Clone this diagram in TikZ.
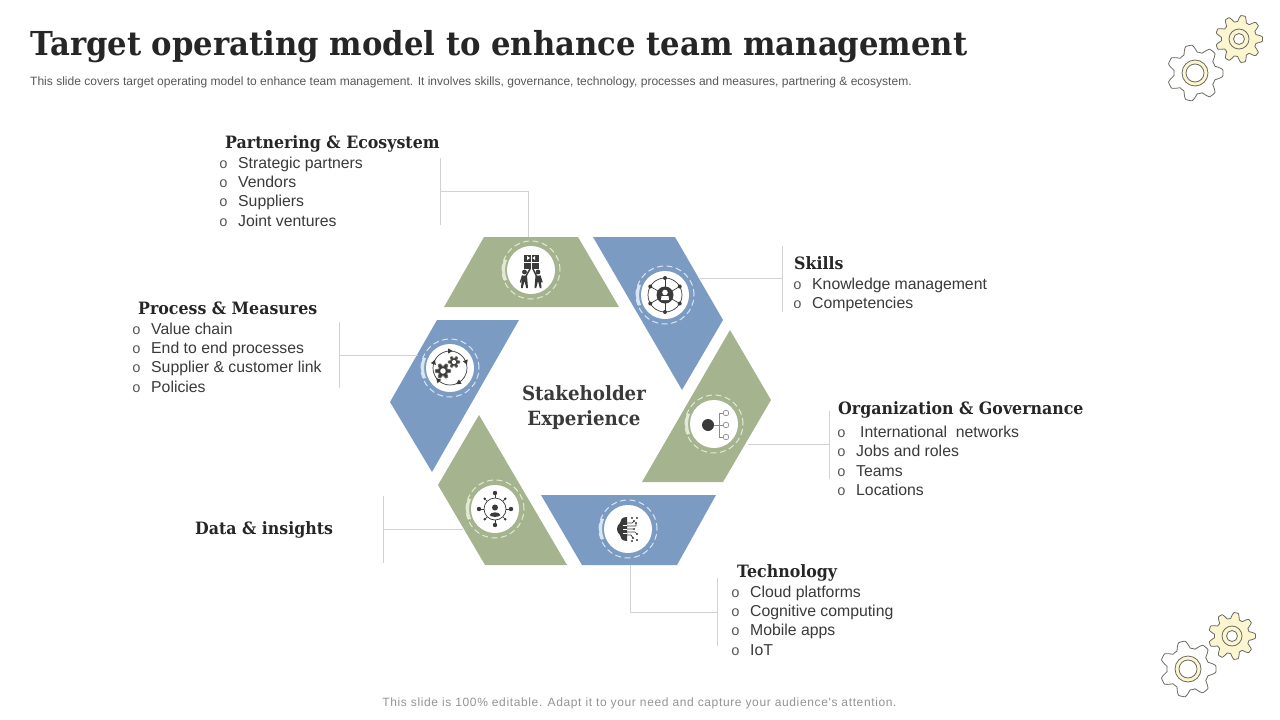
\documentclass[tikz,border=0pt]{standalone}
\usepackage{fontspec}
\setmainfont{Liberation Sans}
\newfontfamily\slabfont{DejaVu Serif}[FakeStretch=0.93]
\newfontfamily\monofont{Liberation Mono}
\newfontfamily\footfont{Liberation Sans}[LetterSpace=5.3]
\definecolor{sgreen}{HTML}{A5B48F}
\definecolor{sblue}{HTML}{7C9BC3}
\definecolor{lgreen}{HTML}{E2EAD6}
\definecolor{lblue}{HTML}{D8E5F4}
\definecolor{ink}{HTML}{3A3A3A}
\definecolor{head}{HTML}{262626}
\definecolor{gearfill}{HTML}{FBF6CF}
\definecolor{gearline}{HTML}{6A6A62}
\definecolor{rule}{HTML}{D2D2D2}
\tikzset{
  seg/.style={draw=none},
  disc/.style={circle,fill=white,minimum size=48pt,inner sep=0pt},
  heading/.style={anchor=base west,inner sep=0pt,text=head,font=\slabfont\bfseries\fontsize{17}{20}\selectfont},
  item/.style={anchor=base west,inner sep=0pt,text=ink,font=\fontsize{15.8}{18}\selectfont},
  bul/.style={anchor=base west,inner sep=0pt,text=ink!85,font=\monofont\fontsize{14.5}{18}\selectfont},
  link/.style={draw=rule,line width=0.8pt},
  iconline/.style={draw=ink,line width=0.7pt},
  gearout/.style={draw=gearline,line width=0.8pt,line join=round},
}
% #1 centre, #2 mid radius, #3 tooth amplitude, #4 teeth, #5 rotation, #6 fill
\newcommand{\geartooth}[6]{%
  \filldraw[gearout,fill=#6,shift={(#1)}] plot[smooth,domain=0:360,samples=241,variable=\t]
    ({(#2+#3*max(-1,min(1,1.5*cos(#4*(\t+#5)))))*cos(\t)},{(#2+#3*max(-1,min(1,1.5*cos(#4*(\t+#5)))))*sin(\t)}) -- cycle;}
\newcommand{\ringdeco}[2]{%
  \draw[#2,line width=1pt,dash pattern=on 6pt off 3.5pt] (#1) circle[radius=29pt];
  \draw[#2,line width=3pt] ([shift={(158:27.5pt)}]#1) arc[start angle=158,end angle=202,radius=27.5pt];}
\begin{document}
\begin{tikzpicture}[x=1pt,y=-1pt]
\useasboundingbox[fill=white] (0,0) rectangle (1280,720);
% title
\node[anchor=base west,inner sep=0pt,text=head,font=\slabfont\bfseries\fontsize{33}{38}\selectfont] (title) at (30,55) {Target operating model to enhance team management};
\node[anchor=base west,inner sep=0pt,text=ink!85,font=\fontsize{12.03}{14}\selectfont] (subtitle) at (30,85) {This slide covers target operating model to enhance team management. It involves skills, governance, technology, processes and measures, partnering \& ecosystem.};
\node[anchor=base,inner sep=0pt,text=black!42,font=\footfont\fontsize{12}{14}\selectfont] (foot) at (639.5,706) {This slide is 100\% editable. Adapt it to your need and capture your audience's attention.};
% segments
\fill[seg,sgreen] (484,237) -- (578,237) -- (619,307) -- (444,307) -- cycle;
\fill[seg,sblue] (593,237) -- (675,237) -- (723,320) -- (682,390) -- cycle;
\fill[seg,sgreen] (730,330) -- (771,400) -- (723,482) -- (642,482) -- cycle;
\fill[seg,sblue] (541,495) -- (716,495) -- (677,565) -- (582,565) -- cycle;
\fill[seg,sgreen] (479,415) -- (567,565) -- (485,565) -- (438,485) -- cycle;
\fill[seg,sblue] (437,320) -- (519,320) -- (432,472) -- (390,402) -- cycle;
% connector anchors
\coordinate (pTop) at (528,237); \coordinate (pMid) at (528,191); \coordinate (pJoin) at (440,191);
\coordinate (pA) at (440,158); \coordinate (pB) at (440,225);
\coordinate (sFrom) at (700,278); \coordinate (sJoin) at (782,278); \coordinate (sA) at (782,246); \coordinate (sB) at (782,312);
\coordinate (mFrom) at (418,355); \coordinate (mJoin) at (339,355); \coordinate (mA) at (339,322); \coordinate (mB) at (339,388);
\coordinate (oFrom) at (748,444); \coordinate (oJoin) at (829,444); \coordinate (oA) at (829,411); \coordinate (oB) at (829,479);
\coordinate (dFrom) at (463,529); \coordinate (dJoin) at (383,529); \coordinate (dA) at (383,496); \coordinate (dB) at (383,563);
\coordinate (tBot) at (630,565); \coordinate (tMid) at (630,612); \coordinate (tJoin) at (717,612); \coordinate (tA) at (717,578); \coordinate (tB) at (717,646);
\draw[link] (pTop) -- (pMid) -- (pJoin); \draw[link] (pA) -- (pB);
\draw[link] (sFrom) -- (sJoin); \draw[link] (sA) -- (sB);
\draw[link] (mFrom) -- (mJoin); \draw[link] (mA) -- (mB);
\draw[link] (oFrom) -- (oJoin); \draw[link] (oA) -- (oB);
\draw[link] (dFrom) -- (dJoin); \draw[link] (dA) -- (dB);
\draw[link] (tBot) -- (tMid) -- (tJoin); \draw[link] (tA) -- (tB);
% discs
\node[disc] (icP) at (531,270) {}; \ringdeco{icP}{lgreen}
\node[disc] (icS) at (665,295) {}; \ringdeco{icS}{lblue}
\node[disc] (icM) at (450,368) {}; \ringdeco{icM}{lblue}
\node[disc] (icO) at (714,424) {}; \ringdeco{icO}{lgreen}
\node[disc] (icD) at (495,509) {}; \ringdeco{icD}{lgreen}
\node[disc] (icT) at (628,529) {}; \ringdeco{icT}{lblue}
% icon: partnering
\begin{scope}[shift={(icP.center)}]
  \fill[ink] (-7,-15) rectangle (8,-1);
  \draw[draw=white,line width=0.6pt] (0.5,-15) -- (0.5,-1) (-7,-8) -- (8,-8);
  \fill[white] (-4,-14) -- (-1,-12) -- (-4,-10) -- cycle; \fill[white] (4,-14) -- (1.5,-12) -- (4,-10) -- cycle;
  \fill[ink] (-6.5,2) circle[radius=2.4pt]; \fill[ink] (7,2) circle[radius=2.4pt];
  \draw[draw=ink,line width=1.5pt,line cap=round,line join=round] (-1,-1) -- (-5,6);
  \draw[draw=ink,line width=1.5pt,line cap=round,line join=round] (2,-1) -- (5.5,6);
  \draw[draw=ink,line width=1.3pt,line cap=round,line join=round] (-8.5,6) -- (-10.5,12);
  \draw[draw=ink,line width=1.3pt,line cap=round,line join=round] (9,6) -- (11,12);
  \fill[ink] (-9,5.5) -- (-4,5.5) -- (-3,18) -- (-4.7,18) -- (-6.5,11) -- (-8.3,18) -- (-10,18) -- cycle;
  \fill[ink] (9.5,5.5) -- (4.5,5.5) -- (3.5,18) -- (5.2,18) -- (7,11) -- (8.8,18) -- (10.5,18) -- cycle;
\end{scope}
% icon: skills
\begin{scope}[shift={(icS.center)}]
  \draw[iconline] (0,0) circle[radius=17pt];
  \foreach \a in {30,90,150,210,270,330}{\draw[iconline] (0,0) -- (\a:17pt); \fill[ink] (\a:17pt) circle[radius=2pt];}
  \fill[ink] (0,0) circle[radius=8.5pt];
  \fill[white] (0,-2.5) circle[radius=2.8pt]; \fill[white] (-4,5) -- (-3.5,1) -- (3.5,1) -- (4,5) -- cycle;
\end{scope}
% icon: process
\begin{scope}[shift={(icM.center)}]
  \draw[iconline] (0,0) circle[radius=17pt];
  \foreach \a in {20,90,160,225,300}{\fill[ink,shift={(\a:17pt)},rotate=\a] (-2.6,-2) -- (2.6,-2) -- (0,2.6) -- cycle;}
  \geartooth{-7,3}{6.2}{1.5}{6}{0}{ink}
  \fill[white] (-7,3) circle[radius=2.8pt];
  \geartooth{4,-6}{4.6}{1.2}{6}{0}{ink}
  \fill[white] (4,-6) circle[radius=2.1pt];
\end{scope}
% icon: organization
\begin{scope}[shift={(icO.center)}]
  \fill[ink] (-6,1) circle[radius=6pt];
  \draw[draw=black!45,line width=0.7pt] (0,1) -- (5,1) (5,-11) -- (5,13) (5,-11) -- (9,-11) (5,1) -- (9,1) (5,13) -- (9,13);
  \foreach \cy in {-11,1,13}{\draw[draw=black!45,line width=0.7pt] (12,\cy) circle[radius=2.8pt];}
\end{scope}
% icon: data
\begin{scope}[shift={(icD.center)}]
  \draw[iconline] (0,0) circle[radius=11pt];
  \foreach \a in {0,90,180,270}{\draw[iconline] (\a:11pt) -- (\a:16pt); \fill[ink] (\a:16pt) circle[radius=2.2pt];}
  \foreach \a in {45,135,225,315}{\draw[iconline] (\a:11pt) -- (\a:14.5pt); \fill[ink] (\a:14.5pt) circle[radius=1.3pt];}
  \fill[ink] (0,-1.5) circle[radius=3pt];
  \fill[ink] (-5.5,6) .. controls (-4,2.5) and (4,2.5) .. (5.5,6) .. controls (4,8.5) and (-4,8.5) .. cycle;
\end{scope}
% icon: technology
\begin{scope}[shift={(icT.center)}]
  \fill[ink] (-1,-12) .. controls (-6,-12) and (-8,-9) .. (-8,-6) .. controls (-12,-3) and (-12,3) .. (-8,6) .. controls (-8,9) and (-6,12) .. (-1,12) -- cycle;
  \draw[draw=white,line width=0.5pt] (-5,-4) -- (-1,-4) (-5,0) -- (-1,0) (-5,4) -- (-1,4);
  \draw[draw=ink,line width=0.7pt] (-1,-6) -- (4,-6) -- (6,-8) (-1,-3) -- (8,-3) -- (8,-6) (-1,0) -- (5,0) (-1,3) -- (7,3) -- (9,5) (-1,6) -- (3,6) -- (5,9);
  \foreach \px/\py in {4/-11,9/-11,6/-8,8/-6,6/0,9/5,5/9,4/12,9/11}{\fill[ink] (\px,\py) circle[radius=1.2pt];}
\end{scope}
% centre
\node[anchor=base,inner sep=0pt,text=ink,font=\slabfont\bfseries\fontsize{19.6}{22}\selectfont] (st1) at (584,400) {Stakeholder};
\node[anchor=base,inner sep=0pt,text=ink,font=\slabfont\bfseries\fontsize{19.6}{22}\selectfont] (st2) at (584,425) {Experience};
% text blocks
\node[heading] (hP) at (225,148) {Partnering \& Ecosystem};
\foreach \t/\b in {Strategic partners/168.5,Vendors/187.5,Suppliers/206.5,Joint ventures/226.5}{\node[bul] at (219,\b) {o}; \node[item] at (238,\b) {\t};}
\node[heading] (hS) at (794,269) {Skills};
\foreach \t/\b in {Knowledge management/289.5,Competencies/308.5}{\node[bul] at (793,\b) {o}; \node[item] at (812,\b) {\t};}
\node[heading] (hM) at (138,314) {Process \& Measures};
\foreach \t/\b in {Value chain/334.5,End to end processes/353.5,Supplier \& customer link/372.5,Policies/392.5}{\node[bul] at (132,\b) {o}; \node[item] at (151,\b) {\t};}
\node[heading] (hO) at (838,414) {Organization \& Governance};
\node[bul] at (837,437.5) {o}; \node[item] at (860,437.5) {International\ \ networks};
\foreach \t/\b in {Jobs and roles/456.5,Teams/476.5,Locations/495.5}{\node[bul] at (837,\b) {o}; \node[item] at (856,\b) {\t};}
\node[heading] (hD) at (195,534) {Data \& insights};
\node[heading] (hT) at (737,577) {Technology};
\foreach \t/\b in {Cloud platforms/597.5,Cognitive computing/616.5,Mobile apps/635.5,IoT/655.5}{\node[bul] at (731,\b) {o}; \node[item] at (750,\b) {\t};}
% gears
\geartooth{1195,73}{24.5}{3.5}{7}{0}{white}
\filldraw[gearout,fill=gearfill] (1195,73) circle[radius=13pt];
\filldraw[gearout,fill=white] (1195,73) circle[radius=9pt];
\geartooth{1239,39}{20.5}{3}{9}{0}{gearfill}
\filldraw[gearout,fill=gearfill] (1239,39) circle[radius=10pt];
\filldraw[gearout,fill=white] (1239,39) circle[radius=5.5pt];
\geartooth{1188,669}{24.5}{3.5}{7}{0}{white}
\filldraw[gearout,fill=gearfill] (1188,669) circle[radius=13pt];
\filldraw[gearout,fill=white] (1188,669) circle[radius=9pt];
\geartooth{1232,636}{20.5}{3}{9}{0}{gearfill}
\filldraw[gearout,fill=gearfill] (1232,636) circle[radius=10pt];
\filldraw[gearout,fill=white] (1232,636) circle[radius=5.5pt];
\end{tikzpicture}
\end{document}
